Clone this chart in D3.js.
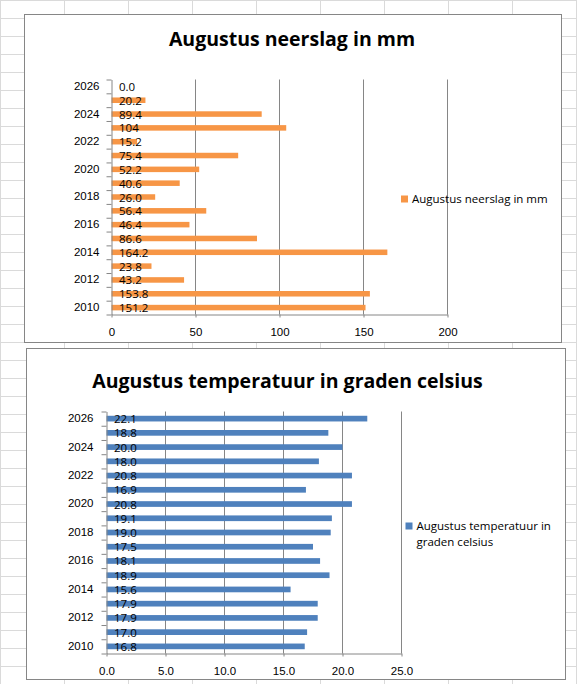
<!DOCTYPE html>
<html>
<head>
<meta charset="utf-8">
<script src="https://cdn.jsdelivr.net/npm/d3@7"></script>
<style>
	html, body { margin: 0; padding: 0; background: #fff; }
	svg { display: block; font-family: "Open Sans", Calibri, Lato, sans-serif; }
</style>
</head>
<body>
<svg id="sheet" width="577" height="684"></svg>
<script>
// categories (bottom to top)
const years = [2010, 2011, 2012, 2013, 2014, 2015, 2016, 2017, 2018, 2019, 2020, 2021, 2022, 2023, 2024, 2025, 2026];
const yearLabels = [2010, 2012, 2014, 2016, 2018, 2020, 2022, 2024, 2026];

// rainfall in mm
const rainValues = [151.2, 153.8, 43.2, 23.8, 164.2, 86.6, 46.4, 56.4, 26.0, 40.6, 52.2, 75.4, 15.2, 104, 89.4, 20.2, 0.0];
const rainLabels = ['151.2', '153.8', '43.2', '23.8', '164.2', '86.6', '46.4', '56.4', '26.0', '40.6', '52.2', '75.4', '15.2', '104', '89.4', '20.2', '0.0'];
const rainTicks = [0, 50, 100, 150, 200];

// temperature in degrees celsius
const tempValues = [16.8, 17.0, 17.9, 17.9, 15.6, 18.9, 18.1, 17.5, 19.0, 19.1, 20.8, 16.9, 20.8, 18.0, 20.0, 18.8, 22.1];
const tempTicks = [0, 5, 10, 15, 20, 25];

const GRID = '#868686';
const SHEET_LINE = '#dadada';
const FONT_SIZE = 11.5;
const svg = d3.select('#sheet');

// spreadsheet cells behind the charts
function drawSheet() {
	const g = svg.append('g').attr('class', 'sheet');
	g.selectAll('line.col')
		.data(d3.range(0, 577, 64))
		.join('line')
			.attr('x1', d => d + 0.5).attr('x2', d => d + 0.5)
			.attr('y1', 0).attr('y2', 684)
			.attr('stroke', SHEET_LINE);
	g.selectAll('line.row')
		.data(d3.range(0, 684, 18))
		.join('line')
			.attr('x1', 0).attr('x2', 577)
			.attr('y1', d => d + 0.5).attr('y2', d => d + 0.5)
			.attr('stroke', SHEET_LINE);
}

function drawChart(o) {
	const g = svg.append('g');
	// chart frame
	g.append('rect')
		.attr('x', o.frame[0]).attr('y', o.frame[1])
		.attr('width', o.frame[2]).attr('height', o.frame[3])
		.attr('fill', '#fff').attr('stroke', GRID);

	const x = d3.scaleLinear().domain([o.ticks[0], o.ticks[o.ticks.length - 1]]).range([o.left, o.right]);
	const y = d3.scaleBand()
		.domain(years.slice().reverse())
		.range([o.top, o.bottom])
		.paddingInner(0.6)
		.paddingOuter(0.3);

	// vertical gridlines
	g.append('g').selectAll('line')
		.data(o.ticks.slice(1))
		.join('line')
			.attr('x1', d => x(d)).attr('x2', d => x(d))
			.attr('y1', o.top).attr('y2', o.bottom)
			.attr('stroke', GRID);

	// bars
	g.append('g').selectAll('rect')
		.data(years)
		.join('rect')
			.attr('x', x(0))
			.attr('y', d => y(d))
			.attr('width', (d, i) => x(o.values[i]) - x(0))
			.attr('height', y.bandwidth())
			.attr('fill', o.color);

	// data labels at the base of each bar
	g.append('g').selectAll('text')
		.data(years)
		.join('text')
			.attr('x', x(0) + 7.5)
			.attr('y', d => y(d) + y.bandwidth() / 2 + 4.5)
			.attr('font-size', FONT_SIZE)
			.attr('fill', '#000')
			.text((d, i) => o.labels[i]);

	// value axis
	const xAxis = g.append('g')
		.attr('transform', `translate(0,${o.bottom})`)
		.call(d3.axisBottom(x).tickValues(o.ticks).tickFormat(o.format).tickSize(3).tickSizeOuter(0).tickPadding(o.xPad));
	xAxis.select('.domain').attr('stroke', GRID);
	xAxis.selectAll('line').attr('stroke', GRID);
	xAxis.selectAll('text').attr('font-size', FONT_SIZE).attr('fill', '#000').attr('font-family', null);

	// category axis: ticks between categories
	const edges = d3.scaleLinear().domain([0, years.length]).range([o.bottom, o.top]);
	const catTicks = g.append('g')
		.attr('transform', `translate(${o.left},0)`)
		.call(d3.axisLeft(edges).tickValues(d3.range(years.length + 1)).tickFormat('').tickSize(5).tickSizeOuter(0));
	catTicks.select('.domain').attr('stroke', GRID);
	catTicks.selectAll('line').attr('stroke', GRID);

	// category labels, every other year
	const catLabels = g.append('g')
		.attr('transform', `translate(${o.left},0)`)
		.call(d3.axisLeft(y).tickValues(yearLabels).tickSize(0).tickPadding(o.yPad));
	catLabels.select('.domain').remove();
	catLabels.selectAll('text').attr('font-size', FONT_SIZE).attr('fill', '#000').attr('font-family', null).attr('dy', '0.3em');

	// title
	g.append('text')
		.attr('x', o.titlePos[0]).attr('y', o.titlePos[1])
		.attr('text-anchor', 'middle')
		.attr('font-size', 19.5)
		.attr('font-weight', 'bold')
		.attr('fill', '#000')
		.text(o.title);

	// legend
	g.append('rect')
		.attr('x', o.legend[0]).attr('y', o.legend[1])
		.attr('width', 7).attr('height', 7)
		.attr('fill', o.color);
	g.append('text')
		.attr('x', o.legend[0] + 11).attr('y', o.legend[1] + 7.5)
		.attr('font-size', FONT_SIZE)
		.attr('fill', '#000')
		.selectAll('tspan')
		.data(o.legendLines)
		.join('tspan')
			.attr('x', o.legend[0] + 11)
			.attr('dy', (d, i) => i === 0 ? 0 : 16)
			.text(d => d);
}

drawSheet();

drawChart({
	frame: [24.5, 14.5, 537, 328],
	left: 111.5, right: 447.5, top: 79.5, bottom: 314.5,
	values: rainValues,
	labels: rainLabels,
	ticks: rainTicks,
	format: d3.format('d'),
	color: '#F79646',
	title: 'Augustus neerslag in mm',
	titlePos: [292, 46],
	legend: [401, 195.5],
	legendLines: ['Augustus neerslag in mm'],
	xPad: 10,
	yPad: 12
});

drawChart({
	frame: [26.5, 348.5, 539, 331],
	left: 106.5, right: 401.5, top: 411.5, bottom: 653.5,
	values: tempValues,
	labels: tempValues.map(d3.format('.1f')),
	ticks: tempTicks,
	format: d3.format('.1f'),
	color: '#4F81BD',
	title: 'Augustus temperatuur in graden celsius',
	titlePos: [287.5, 388],
	legend: [405.5, 522.5],
	legendLines: ['Augustus temperatuur in', 'graden celsius'],
	xPad: 10,
	yPad: 13
});
</script>
</body>
</html>
